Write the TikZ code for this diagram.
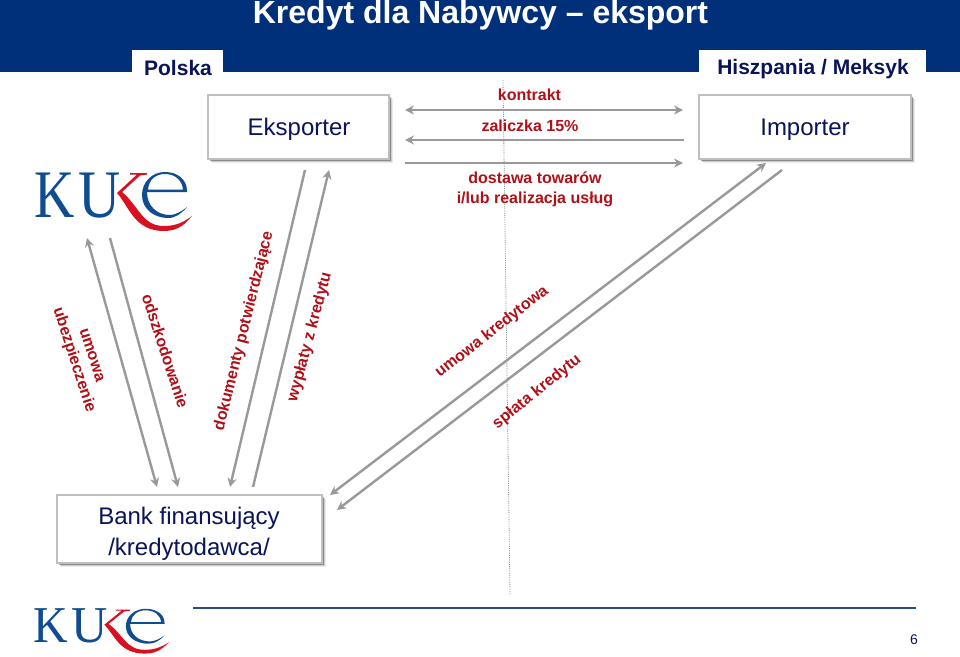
\documentclass[tikz,border=0pt]{standalone}
\usepackage{fontspec}
\setmainfont{Liberation Sans}
\newfontfamily\logoserif{Liberation Serif}
\usetikzlibrary{arrows.meta,shadows}
\definecolor{hdr}{HTML}{00307A}
\definecolor{navy}{HTML}{0A1458}
\definecolor{lab}{HTML}{B01018}
\definecolor{conn}{HTML}{999999}
\definecolor{logoblue}{HTML}{0F4C92}
\definecolor{logored}{HTML}{D8101F}
\definecolor{rulecol}{HTML}{2A4A86}
\tikzset{
  x=1pt,y=-1pt,
  box/.style={draw=black!25,line width=1.2pt,fill=white,inner sep=0pt,
    general shadow={shadow xshift=4pt,shadow yshift=-4pt,fill=black,opacity=.08},
    general shadow={shadow xshift=3.2pt,shadow yshift=-3.2pt,fill=black,opacity=.12},
    general shadow={shadow xshift=2.4pt,shadow yshift=-2.4pt,fill=black,opacity=.16},
    general shadow={shadow xshift=1.6pt,shadow yshift=-1.6pt,fill=black,opacity=.2}},
  boxtext/.style={text=navy,font=\fontsize{24}{31}\selectfont,inner sep=0pt,align=center},
  tabtext/.style={text=navy,font=\bfseries\fontsize{21}{25}\selectfont,inner sep=0pt},
  lbl/.style={text=lab,font=\bfseries\fontsize{16}{20}\selectfont,inner sep=0pt,align=center},
  rlbl/.style={text=lab,font=\bfseries\fontsize{16}{21}\selectfont,inner sep=0pt,align=center},
  conline/.style={draw=conn,line width=2.4pt},
  end/.style={-{Stealth[length=9pt,width=9pt]}},
  both/.style={{Stealth[length=9pt,width=9pt]}-{Stealth[length=9pt,width=9pt]}},
  kuke/.pic={
    \node[anchor=base west,inner sep=0pt,transform shape,text=logoblue] at (0,46)
      {\logoserif\scalebox{.82}[1]{\fontsize{68}{68}\selectfont K}};
    \node[anchor=base west,inner sep=0pt,transform shape,text=logoblue] at (44,46)
      {\logoserif\scalebox{.86}[1]{\fontsize{68}{68}\selectfont U}};
    \fill[logored] (113,2) -- (96,2) -- (96,3.5) -- (103,3.5) -- (83,22)
      .. controls (95,35) and (100,60) .. (130,60)
      .. controls (145,60) and (152,52) .. (158,45)
      .. controls (150,51) and (142,55) .. (130,55)
      .. controls (108,55) and (105,35) .. (88,21) -- (106,4.5) -- (113,3.5) -- cycle;
    \fill[logoblue,even odd rule] (153,20) .. controls (153,8) and (143,1) .. (131,1)
      .. controls (118,1) and (108,11) .. (108,24)
      .. controls (108,38) and (120,47) .. (134,47)
      .. controls (142,47) and (148,42) .. (153,36)
      .. controls (147,41) and (141,44) .. (136,44)
      .. controls (123,44) and (113,35) .. (113,21) -- (153,21) -- cycle
      (114,18.5) .. controls (115,8) and (122,3) .. (131,3)
      .. controls (141,3) and (148,9) .. (149,18.5) -- cycle;
  }
}
\begin{document}
\begin{tikzpicture}
\useasboundingbox (0,0) rectangle (960,656);
\fill[white] (0,0) rectangle (960,656);
% header
\fill[hdr] (0,0) rectangle (960,72);
\fill[white] (132,50) rectangle (223,73);
\fill[white] (699,50) rectangle (926,73);
\node[text=white,font=\bfseries\fontsize{32}{36}\selectfont,inner sep=0pt] (title) at (480.5,15) {Kredyt dla Nabywcy – eksport};
\node[tabtext] (polska) at (178,68) {Polska};
\node[tabtext] (kraj) at (813,69.5) {Hiszpania / Meksyk};
% dotted divider
\coordinate (d1) at (503,80);
\coordinate (d2) at (510,595);
\draw[black!45,densely dotted,line width=.8pt] (d1) -- (d2);
% boxes
\node[box,minimum width=181pt,minimum height=64pt] (eks) at (298.5,127) {};
\node[boxtext] at (299,129.5) {Eksporter};
\node[box,minimum width=212pt,minimum height=64pt] (imp) at (805,127) {};
\node[boxtext] at (805,129.5) {Importer};
\node[box,minimum width=265pt,minimum height=68pt] (bank) at (189.5,529) {};
\node[boxtext] (banktxt) at (189,533.5) {Bank finansujący\\/kredytodawca/};
% top connectors
\coordinate (a1) at (405,110); \coordinate (a2) at (683,110);
\coordinate (b1) at (405,140); \coordinate (b2) at (684,140);
\coordinate (c1) at (405,163); \coordinate (c2) at (683,163);
\draw[conline,both] (a1) -- (a2);
\draw[conline,end] (b2) -- (b1);
\draw[conline,end] (c1) -- (c2);
% left connectors
\coordinate (e1) at (87,238); \coordinate (e2) at (157,487);
\coordinate (f1) at (110,238); \coordinate (f2) at (178,487);
\coordinate (g1) at (305,170); \coordinate (g2) at (230,487);
\coordinate (h1) at (253,487); \coordinate (h2) at (329,170);
\draw[conline,both] (e1) -- (e2);
\draw[conline,end] (f1) -- (f2);
\draw[conline,end] (g1) -- (g2);
\draw[conline,end] (h1) -- (h2);
% long connectors
\coordinate (i1) at (766,163); \coordinate (i2) at (330,495);
\coordinate (j1) at (782,170); \coordinate (j2) at (337,510);
\draw[conline,both] (i1) -- (i2);
\draw[conline,end] (j1) -- (j2);
% labels
\node[lbl] (l1) at (529.5,95) {kontrakt};
\node[lbl] (l2) at (530,126) {zaliczka 15\%};
\node[lbl] (l3) at (535,189) {dostawa towarów\\i/lub realizacja usług};
\node[rlbl,rotate=-72] (r1) at (92,355) {umowa};
\node[rlbl,rotate=-72] (r2) at (74,360) {ubezpieczenie};
\node[rlbl,rotate=-72] (r3) at (165.5,351) {odszkodowanie};
\node[rlbl,rotate=76] (r4) at (244,331) {dokumenty potwierdzające};
\node[rlbl,rotate=75] (r5) at (310,337) {wypłaty z kredytu};
\node[rlbl,rotate=38] (r6) at (492,332) {umowa kredytowa};
\node[rlbl,rotate=39] (r7) at (537,392) {spłata kredytu};
% logos
\pic at (34,171) {kuke};
\pic[xscale=.86,yscale=.76,transform shape] at (33,608) {kuke};
% footer
\coordinate (fl1) at (193,607.5); \coordinate (fl2) at (916,607.5);
\draw[rulecol,line width=2pt] (fl1) -- (fl2);
\node[text=navy,font=\fontsize{14}{16}\selectfont,inner sep=0pt] (page) at (914,640) {6};
\end{tikzpicture}
\end{document}
